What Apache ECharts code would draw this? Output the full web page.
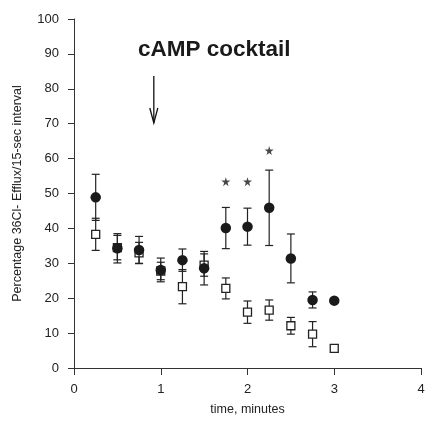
<!DOCTYPE html>
<html>
<head>
<meta charset="utf-8">
<script src="https://cdn.jsdelivr.net/npm/echarts@6/dist/echarts.min.js"></script>
<style>
    html,body{margin:0;padding:0;background:#fff;}
    #main{width:425px;height:421px;}
</style>
</head>
<body>
<div id="main"></div>
<script>
// time points (minutes)
var times = [0.25, 0.5, 0.75, 1.0, 1.25, 1.5, 1.75, 2.0, 2.25, 2.5, 2.75, 3.0];
// cAMP cocktail (filled circles)
var campMean = [48.9, 34.3, 33.8, 28.1, 30.9, 28.6, 40.1, 40.5, 45.9, 31.4, 19.5, 19.3];
var campErr = [6.6, 4.2, 3.9, 3.4, 3.2, 4.8, 5.9, 5.3, 10.8, 7.0, 2.3, 0.5];
// control (open squares)
var ctrlMean = [38.3, 34.5, 33.0, 27.8, 23.3, 29.5, 22.8, 16.0, 16.6, 12.1, 9.7, 5.6];
var ctrlErr = [4.6, 3.5, 3.0, 2.5, 4.9, 3.2, 3.0, 3.2, 2.9, 2.4, 3.6, 1.0];
// significance stars
var starTimes = [1.75, 2.0, 2.25];
var starValues = [53.4, 53.4, 62.3];
// arrow marking addition of cAMP cocktail
var arrowTime = 0.92;
var arrowFrom = 83.7;
var arrowTo = 70.2;

function pairs(xs, ys){
    var out = [];
    for (var i = 0; i < xs.length; i++) out.push([xs[i], ys[i]]);
    return out;
}

function errData(mean, err){
    var out = [];
    for (var i = 0; i < times.length; i++) {
        out.push([times[i], mean[i] - err[i], mean[i] + err[i]]);
    }
    return out;
}

function renderErr(params, api){
    var x = api.value(0);
    var lo = api.coord([x, api.value(1)]);
    var hi = api.coord([x, api.value(2)]);
    var w = 4;
    var st = {stroke: '#222', lineWidth: 1.2};
    return {
        type: 'group',
        children: [
            {type: 'line', shape: {x1: lo[0], y1: lo[1], x2: hi[0], y2: hi[1]}, style: st},
            {type: 'line', shape: {x1: lo[0] - w, y1: lo[1], x2: lo[0] + w, y2: lo[1]}, style: st},
            {type: 'line', shape: {x1: hi[0] - w, y1: hi[1], x2: hi[0] + w, y2: hi[1]}, style: st}
        ]
    };
}

function renderArrow(params, api){
    var top = api.coord([api.value(0), api.value(1)]);
    var tip = api.coord([api.value(0), api.value(2)]);
    var st = {stroke: '#111', lineWidth: 1.3, fill: null};
    return {
        type: 'group',
        children: [
            {type: 'line', shape: {x1: top[0], y1: top[1], x2: tip[0], y2: tip[1]}, style: st},
            {type: 'polyline', shape: {points: [[tip[0] - 4, tip[1] - 15], [tip[0], tip[1]], [tip[0] + 4, tip[1] - 15]]}, style: st}
        ]
    };
}

var starPath = 'path://M50,0 L61,35 L98,35 L68,57 L79,91 L50,70 L21,91 L32,57 L2,35 L39,35 Z';

var chart = echarts.init(document.getElementById('main'));
chart.setOption({
    animation: false,
    backgroundColor: '#fff',
    textStyle: {fontFamily: 'Liberation Sans, Arial, sans-serif'},
    title: {
        text: 'cAMP cocktail',
        left: 133,
        top: 33,
        textStyle: {fontSize: 22.5, fontWeight: 'bold', color: '#1a1a1a', fontFamily: 'Liberation Sans, Arial, sans-serif'}
    },
    grid: {left: 74, right: 4, top: 19, bottom: 53, outerBoundsMode: 'none', containLabel: false},
    xAxis: {
        type: 'value',
        min: 0,
        max: 4,
        interval: 1,
        name: 'time, minutes',
        nameLocation: 'middle',
        nameGap: 35,
        nameTextStyle: {fontSize: 12.5, color: '#222'},
        axisLine: {lineStyle: {color: '#333', width: 1}},
        axisTick: {inside: false, length: 7, lineStyle: {color: '#333'}},
        axisLabel: {fontSize: 13, color: '#222', margin: 15, showMaxLabel: true, showMinLabel: true},
        splitLine: {show: false}
    },
    yAxis: {
        type: 'value',
        min: 0,
        max: 100,
        interval: 10,
        name: 'Percentage 36Cl- Efflux/15-sec interval',
        nameLocation: 'middle',
        nameGap: 50,
        nameTextStyle: {fontSize: 12.5, color: '#222'},
        axisLine: {show: true, lineStyle: {color: '#333', width: 1}},
        axisTick: {show: true, inside: false, length: 6, lineStyle: {color: '#333'}},
        axisLabel: {fontSize: 13, color: '#222', margin: 15},
        splitLine: {show: false}
    },
    series: [
        {
            type: 'custom',
            renderItem: renderErr,
            data: errData(ctrlMean, ctrlErr),
            encode: {x: 0, y: [1, 2]},
            z: 2
        },
        {
            type: 'scatter',
            data: pairs(times, ctrlMean),
            symbol: 'rect',
            symbolSize: 8,
            itemStyle: {color: '#fff', borderColor: '#222', borderWidth: 1.3, opacity: 1},
            z: 3
        },
        {
            type: 'custom',
            renderItem: renderErr,
            data: errData(campMean, campErr),
            encode: {x: 0, y: [1, 2]},
            z: 4
        },
        {
            type: 'scatter',
            data: pairs(times, campMean),
            symbol: 'circle',
            symbolSize: 10.5,
            itemStyle: {color: '#1a1a1a', opacity: 1},
            z: 5
        },
        {
            type: 'scatter',
            data: pairs(starTimes, starValues),
            symbol: starPath,
            symbolSize: 9,
            itemStyle: {color: '#1a1a1a'},
            z: 5
        },
        {
            type: 'custom',
            renderItem: renderArrow,
            data: [[arrowTime, arrowFrom, arrowTo]],
            encode: {x: 0, y: [1, 2]},
            z: 5
        }
    ]
});
</script>
</body>
</html>
